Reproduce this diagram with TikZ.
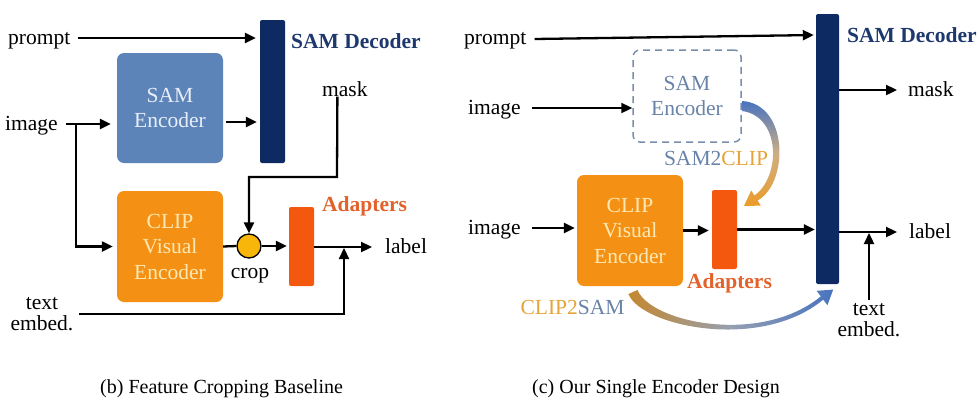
\documentclass[tikz,border=0pt]{standalone}
\usepackage{fontspec}
\setmainfont{Liberation Serif}
\usetikzlibrary{arrows.meta,calc}
\definecolor{navy}{RGB}{14,42,98}
\definecolor{navytext}{RGB}{30,56,110}
\definecolor{samblue}{RGB}{92,132,184}
\definecolor{samtxt}{RGB}{232,238,248}
\definecolor{cliporange}{RGB}{244,145,20}
\definecolor{cliptxt}{RGB}{253,232,178}
\definecolor{cropyellow}{RGB}{248,182,10}
\definecolor{adporange}{RGB}{244,88,14}
\definecolor{adptxt}{RGB}{226,98,44}
\definecolor{dashgray}{RGB}{122,142,170}
\definecolor{graybluetxt}{RGB}{104,130,168}
\definecolor{goldtxt}{RGB}{228,164,58}
\definecolor{arrblue}{RGB}{72,116,192}
\definecolor{arrorange}{RGB}{236,156,40}
\definecolor{arrbrown}{RGB}{196,136,48}
\begin{document}
\begin{tikzpicture}[x=1pt,y=-1pt,
  lbl/.style={inner sep=0pt, font=\fontsize{21.5}{21}\selectfont},
  tl/.style={lbl, yshift=-4pt},
  boldlbl/.style={inner sep=0pt, font=\fontsize{21.5}{21}\selectfont\bfseries},
  captxt/.style={inner sep=0pt, yshift=-4pt, font=\fontsize{20}{22}\selectfont},
  enc/.style={rounded corners=7pt, minimum width=106pt, minimum height=111pt, inner sep=0pt, align=center, font=\fontsize{21.5}{25.5}\selectfont},
  bar/.style={rounded corners=2pt, inner sep=0pt},
  conn/.style={line width=2.3pt, -{Triangle[length=11pt,width=10pt]}},
  plainline/.style={line width=2.3pt},
]
\useasboundingbox (0,0) rectangle (980,418);

% ---------------- left panel ----------------
\node[bar, fill=navy, minimum width=25pt, minimum height=143pt] (ldec) at (272.5,91.5) {};
\node[boldlbl, anchor=west, text=navytext] (ldect) at (291,41) {SAM Decoder};
\node[enc, fill=samblue, text=samtxt, minimum height=110pt] (lsam) at (170,108) {SAM\\Encoder};
\node[enc, fill=cliporange, text=cliptxt] (lclip) at (170,246.5) {CLIP\\Visual\\Encoder};
\node[circle, draw=black, line width=1.3pt, fill=cropyellow, minimum size=24pt, inner sep=0pt] (lcrop) at (249,246) {};
\node[tl, anchor=mid] (lcropt) at (250,272) {crop};
\node[bar, fill=adporange, minimum width=25pt, minimum height=79pt] (ladp) at (301.5,246.5) {};
\node[boldlbl, anchor=west, text=adptxt] (ladpt) at (322,206) {Adapters};
\node[tl, anchor=mid west] (lprompt) at (8,38) {prompt};
\node[tl, anchor=mid west] (limage) at (5,124) {image};
\node[tl, anchor=mid west] (lmask) at (322,90) {mask};
\node[tl, anchor=mid west] (llabel) at (385,247) {label};
\node[tl, align=center] (ltext) at (42,310) {text\\embed.};

\coordinate (lpromptout) at ([shift={(7,-4)}]lprompt.mid east);
\draw[conn, shorten >=4pt] (lpromptout) -- (lpromptout -| ldec.west);
\coordinate (lsamout) at ([shift={(3,14)}]lsam.east);
\draw[conn, shorten >=3pt] (lsamout) -- (lsamout -| ldec.west);
\coordinate (limgout) at ([shift={(8,-4)}]limage.mid east);
\draw[conn, shorten >=6pt] (limgout) -- (limgout -| lsam.west);
\coordinate (lbr) at (76,124);
\draw[conn, shorten >=4pt] (lbr) |- (lclip.west);
\draw[plainline] (lclip.east) -- (lcrop.west);
\draw[conn, shorten >=2pt] (lcrop.east) -- (lcrop.east -| ladp.west);
\coordinate (lmaskdown) at ([xshift=-7.5pt]lmask.south);
\coordinate (lmk) at (337,177);
\draw[conn] (lmaskdown) -- (lmk) -| (lcrop.north);
\coordinate (llabelin) at ([shift={(-13,-4)}]llabel.mid west);
\draw[conn] (ladp.east |- llabelin) -- (llabelin);
\coordinate (ljoin) at (344,248);
\draw[conn] ([xshift=5pt]ltext.east) -| (ljoin);

% ---------------- right panel ----------------
\node[bar, fill=navy, minimum width=23pt, minimum height=270pt] (rdec) at (827.5,149) {};
\node[boldlbl, anchor=west, text=navytext] (rdect) at (847,35) {SAM Decoder};
\node[enc, draw=dashgray, dash pattern=on 7pt off 5pt, line width=1.5pt, text=graybluetxt, minimum width=108pt, minimum height=92pt] (rsam) at (687,96) {SAM\\Encoder};
\node[enc, fill=cliporange, text=cliptxt] (rclip) at (630,230.5) {CLIP\\Visual\\Encoder};
\node[bar, fill=adporange, minimum width=25pt, minimum height=79pt] (radp) at (724.5,229.5) {};
\node[boldlbl, text=adptxt] (radpt) at (729.5,283) {Adapters};
\node[tl, anchor=mid west] (rprompt) at (464,38) {prompt};
\node[tl, anchor=mid west] (rimg1) at (468,108) {image};
\node[tl, anchor=mid west] (rimg2) at (468,228) {image};
\node[tl, anchor=mid west] (rmask) at (908,90) {mask};
\node[tl, anchor=mid west] (rlabel) at (909,232) {label};
\node[tl, align=center] (rtext) at (869,316) {text\\embed.};
\node[lbl] (s2c) at (716,158) {\textcolor{graybluetxt}{SAM2}\textcolor{goldtxt}{CLIP}};
\node[lbl] (c2s) at (572.5,307) {\textcolor{goldtxt}{CLIP2}\textcolor{graybluetxt}{SAM}};

\coordinate (rpy) at (0,35);
\coordinate (rpromptout) at ([shift={(8,-3)}]rprompt.mid east);
\draw[conn, shorten >=2pt] (rpromptout) -- (rdec.west |- rpy);
\coordinate (rimg1out) at ([shift={(11,-4)}]rimg1.mid east);
\draw[conn] (rimg1out) -- (rimg1out -| rsam.west);
\coordinate (rimg2out) at ([shift={(11,-4)}]rimg2.mid east);
\draw[conn, shorten >=2pt] (rimg2out) -- (rimg2out -| rclip.west);
\draw[conn, shorten >=3pt] (rclip.east) -- (rclip.east -| radp.west);
\draw[conn, shorten >=1pt] (radp.east) -- (radp.east -| rdec.west);
\coordinate (rmaskin) at ([shift={(-11,-4)}]rmask.mid west);
\draw[conn] (rdec.east |- rmaskin) -- (rmaskin);
\coordinate (rlabelin) at ([shift={(-12,-4)}]rlabel.mid west);
\draw[conn] (rdec.east |- rlabelin) -- (rlabelin);
\draw[conn, shorten >=1pt] ([yshift=3pt]rtext.north) -- (rtext.north |- rlabelin);

% SAM2CLIP shaded arrow
\shade[top color=arrblue, bottom color=arrorange, middle color=white!55!arrblue!50!arrorange]
  (742,101) .. controls (789,104) and (789,183) .. (757.6,200.5)
  -- (760.8,205.6) -- (744,206) -- (751.2,190.4) -- (754.4,195.5)
  .. controls (781,177) and (781,116) .. (742,111) -- cycle;
% CLIP2SAM shaded arrow
\shade[left color=arrbrown, right color=arrblue, middle color=white!55!arrbrown!50!arrblue]
  (628.4,294) .. controls (641,326) and (760,352) .. (823.2,299.6)
  -- (827.4,305.2) -- (833.2,289.6) -- (816.6,290.8) -- (820.8,296.4)
  .. controls (760,346) and (650,322) .. (637.6,290) -- cycle;

% captions
\node[captxt, anchor=mid west] (capb) at (100,387) {(b) Feature Cropping Baseline};
\node[captxt, anchor=mid west] (capc) at (532,387) {(c) Our Single Encoder Design};
\end{tikzpicture}
\end{document}
